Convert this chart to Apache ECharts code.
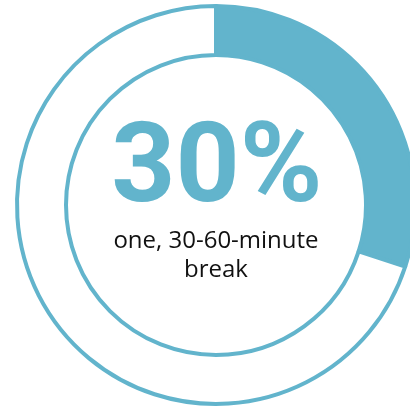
<!DOCTYPE html>
<html>
<head>
<meta charset="utf-8">
<style>
  html, body { margin: 0; padding: 0; background: #ffffff; }
  #chart { width: 410px; height: 409px; }
</style>
<script src="https://cdn.jsdelivr.net/npm/echarts@6/dist/echarts.min.js"></script>
</head>
<body>
<div id="chart"></div>
<script>
// Share of people taking one 30-60-minute break
const categories = ['one, 30-60-minute break', 'other'];
const values = [30, 70];
const headline = '30%';
const caption = ['one, 30-60-minute', 'break'];

const BLUE = '#62b4cc';

const chart = echarts.init(document.getElementById('chart'), null, { renderer: 'canvas' });

chart.setOption({
  animation: false,
  backgroundColor: '#ffffff',
  series: [{
    type: 'pie',
    center: [216, 205],
    radius: [150, 199],
    startAngle: 90,
    clockwise: true,
    silent: true,
    label: { show: false },
    labelLine: { show: false },
    data: categories.map((name, i) => ({
      name,
      value: values[i],
      itemStyle: i === 0
        ? { color: BLUE, borderColor: BLUE, borderWidth: 4 }
        : { color: '#ffffff', borderColor: BLUE, borderWidth: 4 }
    }))
  }],
  graphic: [
    {
      type: 'text',
      style: {
        x: 217, y: 173,
        text: headline,
        fill: BLUE,
        font: 'bold 112px Roboto, "Liberation Sans", sans-serif',
        textAlign: 'center',
        textVerticalAlign: 'middle'
      }
    },
    {
      type: 'text',
      style: {
        x: 216, y: 241,
        text: caption[0],
        fill: '#111111',
        font: '24px "Open Sans", sans-serif',
        textAlign: 'center',
        textVerticalAlign: 'middle'
      }
    },
    {
      type: 'text',
      style: {
        x: 216, y: 270,
        text: caption[1],
        fill: '#111111',
        font: '24px "Open Sans", sans-serif',
        textAlign: 'center',
        textVerticalAlign: 'middle'
      }
    }
  ]
});
</script>
</body>
</html>
